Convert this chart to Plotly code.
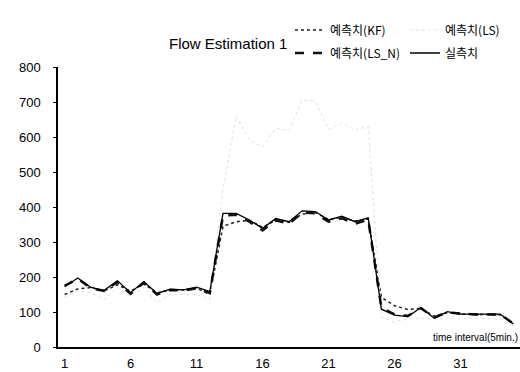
import plotly.graph_objects as go

# time index (5-minute intervals)
intervals = list(range(1, 36))

# observed flow
actual = [172, 197, 170, 162, 189, 155, 187, 153, 165, 163, 171, 158,
          382, 382, 363, 339, 367, 358, 389, 387, 363, 374, 358, 369,
          108, 91, 87, 113, 82, 101, 94, 94, 94, 94, 66]

# Kalman-filter estimate
est_kf = [150, 166, 170, 160, 178, 160, 180, 155, 162, 163, 168, 150,
          345, 358, 362, 342, 362, 356, 380, 384, 364, 370, 360, 366,
          142, 118, 107, 110, 88, 98, 94, 94, 94, 92, 66]

# least-squares estimate
est_ls = [142, 160, 155, 136, 170, 145, 170, 126, 150, 150, 150, 136,
          450, 660, 590, 572, 625, 618, 705, 702, 622, 640, 620, 630,
          84, 72, 80, 82, 80, 82, 80, 82, 82, 80, 60]

# normalized least-squares estimate
est_ls_n = [175, 195, 168, 160, 186, 152, 184, 150, 163, 161, 168, 154,
            375, 378, 358, 333, 362, 352, 384, 382, 358, 368, 352, 364,
            112, 93, 89, 111, 84, 99, 96, 93, 93, 93, 67]

x_ticks = [1, 6, 11, 16, 21, 26, 31]
y_ticks = [0, 100, 200, 300, 400, 500, 600, 700, 800]

font_main = "Liberation Sans Narrow, Liberation Sans, Arial, sans-serif"
font_kr = "Noto Sans CJK KR, Liberation Sans Narrow, sans-serif"

W, H = 520, 372
L, R, T, B = 58, 0, 67, 25
plot_w, plot_h = W - L - R, H - T - B

fig = go.Figure()
fig.add_trace(go.Scatter(x=intervals, y=est_kf, name="예측치(KF)", mode="lines",
                         legend="legend",
                         line=dict(color="#222222", width=1.5, dash="dot")))
fig.add_trace(go.Scatter(x=intervals, y=est_ls, name="예측치(LS)", mode="lines",
                         legend="legend",
                         line=dict(color="#e0e0e0", width=1, dash="dot")))
fig.add_trace(go.Scatter(x=intervals, y=est_ls_n, name="예측치(LS_N)", mode="lines",
                         legend="legend2",
                         line=dict(color="#111111", width=2.5, dash="dash")))
fig.add_trace(go.Scatter(x=intervals, y=actual, name="실측치", mode="lines",
                         legend="legend2",
                         line=dict(color="#000000", width=1.3)))

legend_common = dict(orientation="h", xref="paper", yref="container",
                     x=(290 - L) / plot_w, xanchor="left", yanchor="middle",
                     entrywidth=70, entrywidthmode="pixels", itemwidth=30,
                     font=dict(family=font_kr, size=12),
                     bgcolor="rgba(0,0,0,0)", borderwidth=0)

fig.update_layout(
    width=W, height=H,
    margin=dict(l=L, r=R, t=T, b=B, autoexpand=False),
    paper_bgcolor="white", plot_bgcolor="white",
    font=dict(family=font_main, color="black", size=13),
    showlegend=True,
    legend=dict(legend_common, y=1 - 30 / H),
    legend2=dict(legend_common, y=1 - 53 / H),
    xaxis=dict(range=[0.5, 35.5], tickvals=x_ticks, showgrid=False, zeroline=False,
               showline=True, linecolor="black", linewidth=1.5,
               ticks="", ticklabelstandoff=4, tickfont=dict(size=13)),
    yaxis=dict(range=[0, 800], tickvals=y_ticks, showgrid=False, zeroline=False,
               showline=True, linecolor="black", linewidth=1.5,
               ticks="outside", ticklen=3, tickcolor="black",
               ticklabelstandoff=10, tickfont=dict(size=13)),
    annotations=[
        dict(text="Flow Estimation 1", xref="paper", yref="paper",
             x=(228 - L) / plot_w, y=1 + (T - 43) / plot_h,
             xanchor="center", yanchor="middle", showarrow=False,
             font=dict(size=15, family=font_main)),
        dict(text="time interval(5min.)", xref="paper", yref="paper",
             x=1.0, y=(347 - 337) / plot_h, xanchor="right", yanchor="middle",
             showarrow=False, font=dict(size=10, family=font_main)),
    ],
)

fig.write_html("out.html")
